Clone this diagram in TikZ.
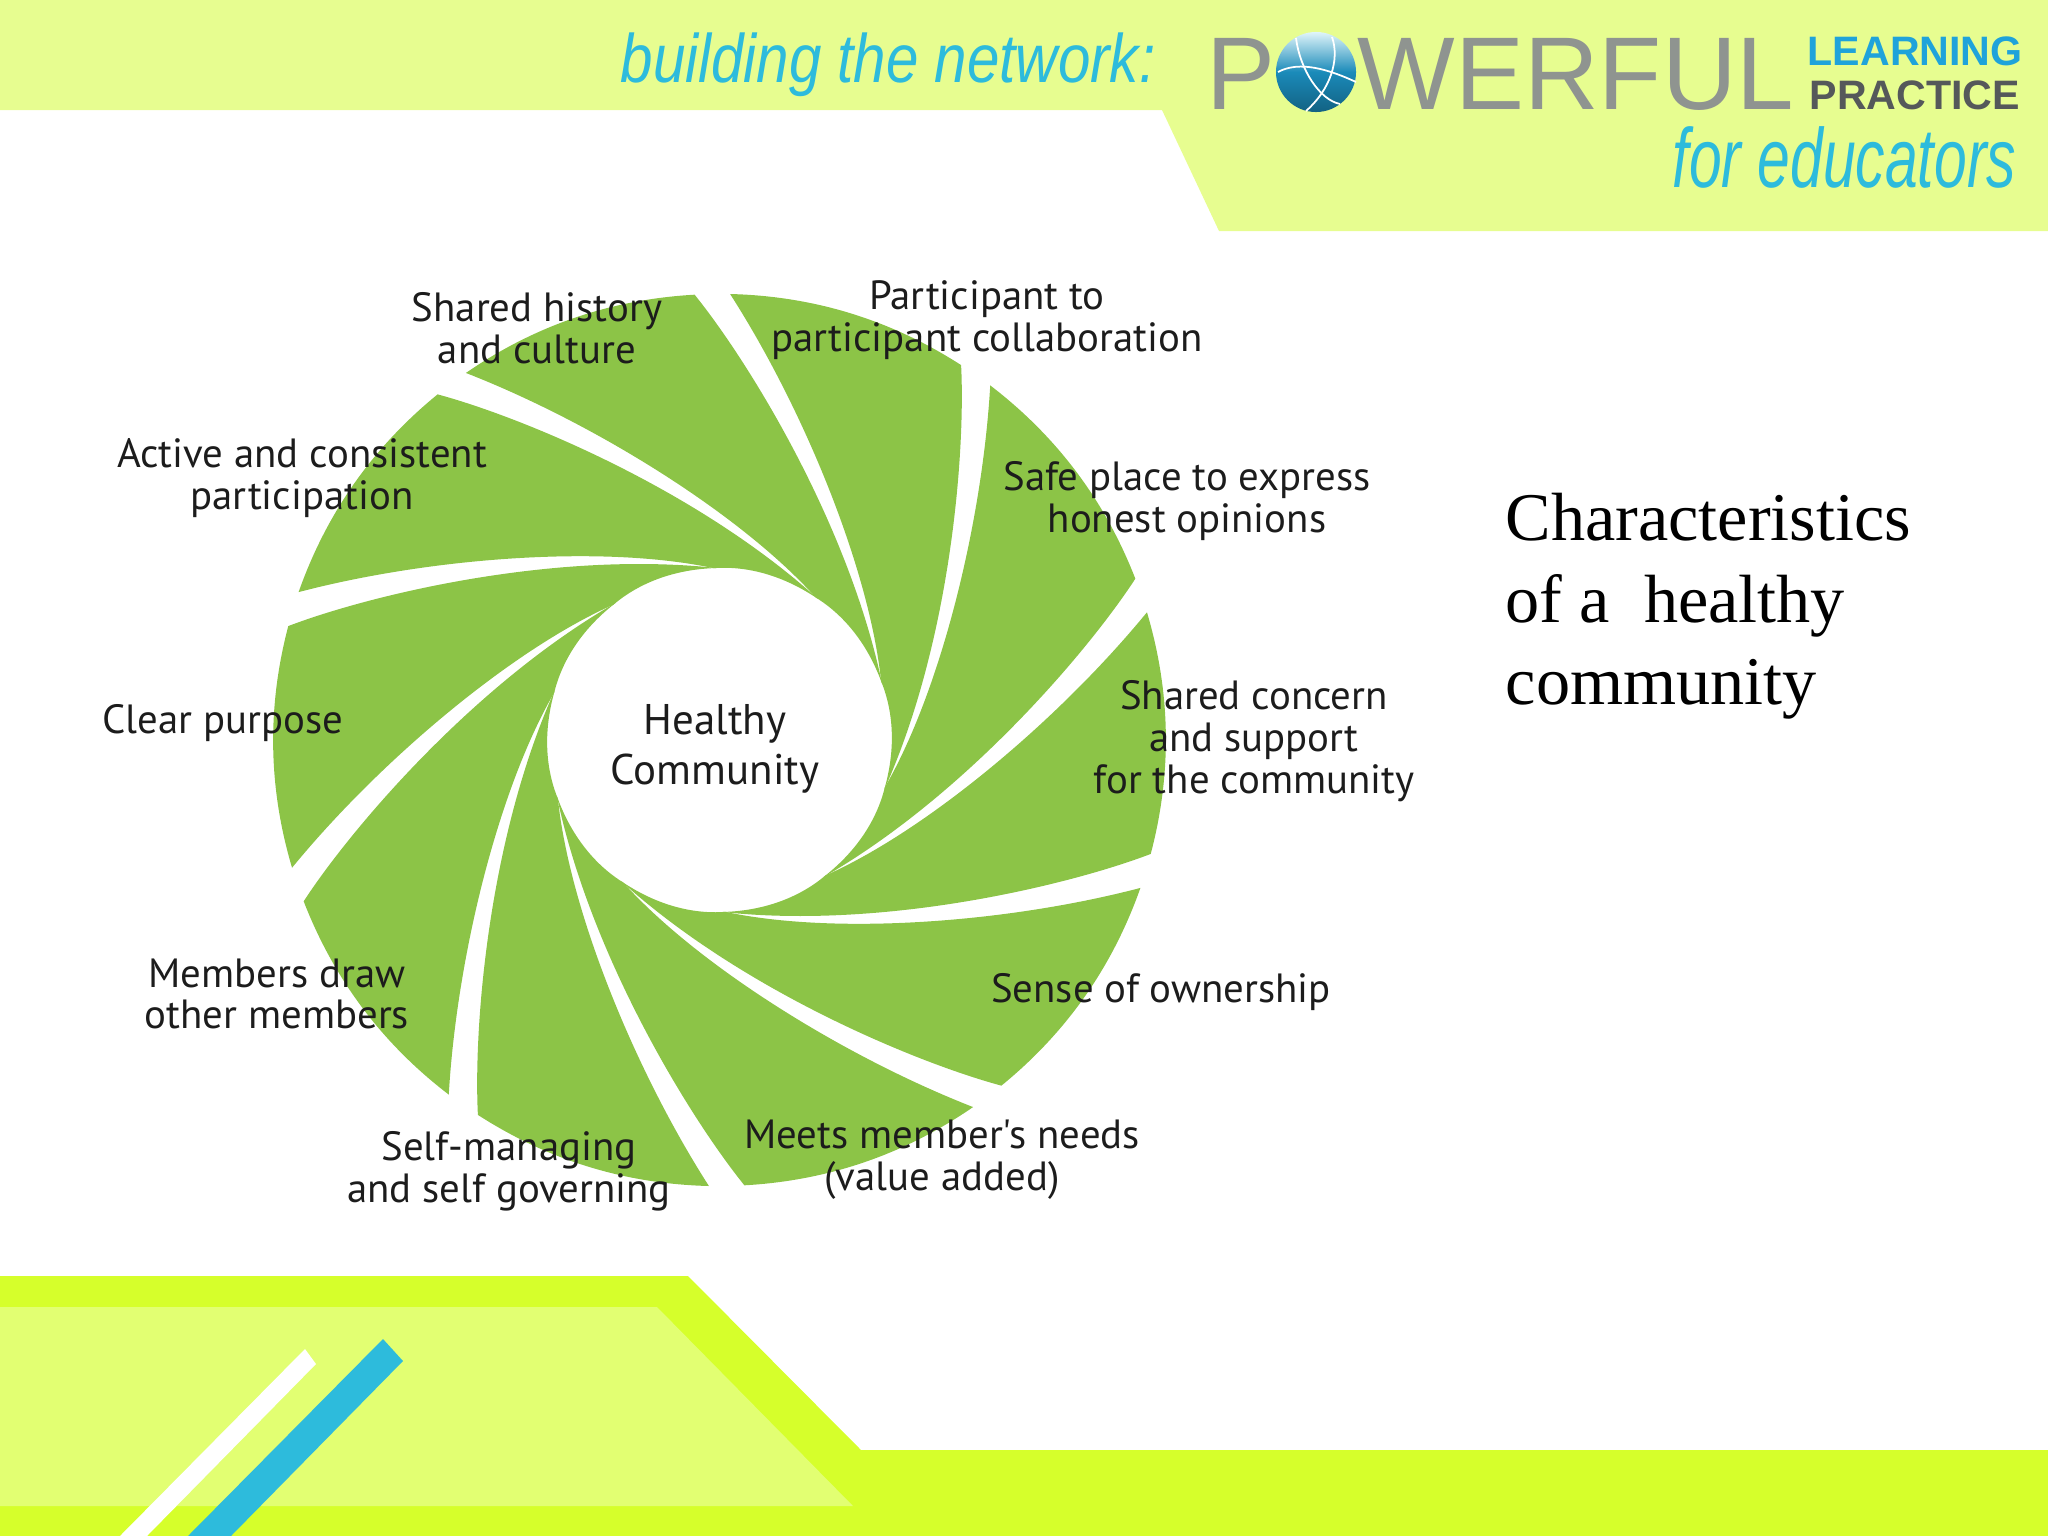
\documentclass[tikz,border=0pt]{standalone}
\usepackage{fontspec}
\usepackage{xcolor}
\usepackage{tikz}
\newfontfamily\labelfont{PT Sans}
\newfontfamily\headfont{Liberation Sans}
\newfontfamily\serffont{Liberation Serif}
\definecolor{Leaf}{HTML}{8CC447}
\definecolor{PaleTop}{HTML}{E7FD90}
\definecolor{Lime}{HTML}{D6FF2B}
\definecolor{PaleLime}{HTML}{E2FF72}
\definecolor{Teal}{HTML}{2DBBDC}
\definecolor{Sky}{HTML}{1FA3DA}
\definecolor{Stone}{HTML}{8F9490}
\definecolor{Slate}{HTML}{55585A}
\definecolor{Ink}{HTML}{1C1C1C}
\begin{document}
\begin{tikzpicture}[x=0.01cm,y=-0.01cm,
l/.style={font=\labelfont\fontsize{11.6}{11.9}\selectfont,text=Ink,align=center,inner sep=0pt},
h/.style={font=\headfont,inner sep=0pt,anchor=base west,text=Teal},
blade/.style={fill=Leaf}]
\useasboundingbox (0,0) rectangle (2048,1536);
% top band
\fill[PaleTop] (0,0)--(2048,0)--(2048,231)--(1219,231)--(1162,110)--(0,110)--cycle;
% bottom band
\fill[Lime] (0,1276)--(688,1276)--(861,1450)--(2048,1450)--(2048,1536)--(0,1536)--cycle;
\fill[PaleLime] (0,1307)--(657,1307)--(853,1506)--(0,1506)--cycle;
\fill[white] (305,1349)--(316,1364)--(147,1536)--(120,1536)--cycle;
\fill[Teal] (383,1339)--(403,1361)--(231,1536)--(188,1536)--cycle;
% wheel
\foreach \a in {0,36,...,324}{
\begin{scope}[shift={(719.5,740)},rotate=-\a]
\path[blade] (10.6,-446) .. controls (94.5,-443.9) and (171.3,-420.2) .. (241.6,-374.9)
 .. controls (246,-290) and (232,-100) .. (164.5,50.3)
 .. controls (175.8,12) and (175,-26) .. (161.6,-58.8)
 .. controls (150,-170) and (85,-330) .. cycle;
\end{scope}}
\node[l] (hist) at (537,328) {Shared history\\and culture};
\node[l] (coll) at (987,320) {Participant to\\participant collaboration};
\node[l] (safe) at (1187,501) {Safe place to express\\honest opinions};
\node[l] (conc) at (1254,741) {Shared concern\\and support\\for the community};
\node[l] (own) at (1161,992) {Sense of ownership};
\node[l] (need) at (942,1160) {Meets member's needs\\(value added)};
\node[l] (self) at (509,1171) {Self-managing\\and self governing};
\node[l] (draw) at (277,994) {Members draw\\other members};
\node[l] (purp) at (223,723) {Clear purpose};
\node[l] (part) at (302,478) {Active and consistent\\participation};
\node[l,font=\labelfont\fontsize{12.2}{14.2}\selectfont] (core) at (715,749) {Healthy\\Community};
% header
\node[h] (net) at (620,82) {\fontsize{19.5}{20}\selectfont\itshape\scalebox{.85}[1]{building the network:}};
\node[h,text=Stone] (pw) at (1206,109) {\fontsize{29.4}{30}\selectfont P};
\node[circle,minimum size=.8cm,inner sep=0pt,top color=Teal!15,bottom color=Sky!60!black,middle color=Sky!85!black] (globe) at (1316,72) {};
\draw[white,line width=.5pt] (1296,38) .. controls (1300,70) and (1320,100) .. (1340,104);
\draw[white,line width=.5pt] (1332,37) .. controls (1340,60) and (1330,90) .. (1306,111);
\draw[white,line width=.5pt] (1278,72) .. controls (1300,60) and (1330,70) .. (1356,82);
\node[h,text=Stone] (rf) at (1357,109) {\fontsize{29.4}{30}\selectfont WERFUL};
\node[h,text=Sky] (lrn) at (1807,65) {\fontsize{11.7}{12}\selectfont\bfseries LEARNING};
\node[h,text=Slate] (prc) at (1809,109) {\fontsize{11.7}{12}\selectfont\bfseries PRACTICE};
\node[h] (edu) at (1672,187) {\fontsize{23.9}{24}\selectfont\itshape\scalebox{.7}[1]{for educators}};
% side text
\node[inner sep=0pt,anchor=north west,align=left,font=\serffont\fontsize{19.4}{23.4}\selectfont] (char) at (1505,492) {Characteristics\\of a\ \ healthy\\community};
\end{tikzpicture}
\end{document}
